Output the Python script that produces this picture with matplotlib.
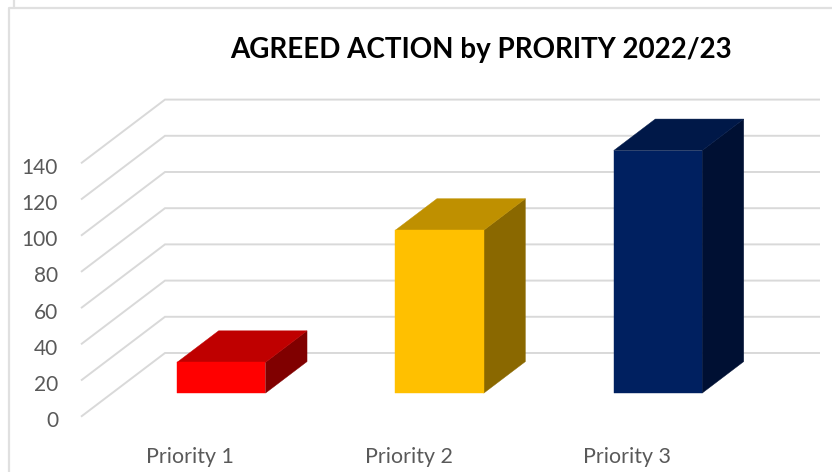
"""Agreed actions by priority, drawn as 3D-style columns on a sheared floor."""
import matplotlib
matplotlib.use("Agg")
import matplotlib.pyplot as plt
from matplotlib.lines import Line2D
from matplotlib.patches import Polygon
from matplotlib.transforms import ScaledTranslation

categories = ["Priority 1", "Priority 2", "Priority 3"]
values = [17, 90, 134]
ticks = [0, 20, 40, 60, 80, 100, 120, 140]
front_colors = ["#ff0000", "#ffc000", "#002060"]
top_colors = ["#bf0000", "#bf9000", "#001848"]
side_colors = ["#800000", "#8a6800", "#001033"]

W, H = 832, 472
GRID = "#d9d9d9"
FRAME = "#e0e0e0"
TEXT = "#595959"
# shift in data units when moving from the front to the back of the floor
DX, DY = 0.3847, 35.2
BAR_W = 0.405
D0, D1 = 0.37, 0.865


def proj(x, v, d):
    return x + d * DX, v + d * DY


plt.rcParams["font.family"] = ["Lato", "DejaVu Sans"]
fig = plt.figure(figsize=(W / 100, H / 100), dpi=100)
ax = fig.add_axes([81 / W, 1 - 416.7 / H, 655 / W, 253.4 / H])
ax.set_xlim(0, 3)
ax.set_ylim(0, 140)
for sp in ax.spines.values():
    sp.set_visible(False)
ax.patch.set_visible(False)

# floor diagonals and back wall lines
for t in ticks:
    xs, ys = zip(proj(0, t, 0), proj(0, t, 1), proj(3, t, 1))
    ax.plot(xs, ys, color=GRID, lw=1.4, clip_on=False, zorder=1,
            solid_joinstyle="miter", solid_capstyle="butt")

for i, v in enumerate(values):
    l, r = i + 0.5 - BAR_W / 2, i + 0.5 + BAR_W / 2
    front = [proj(l, 0, D0), proj(r, 0, D0), proj(r, v, D0), proj(l, v, D0)]
    top = [proj(l, v, D0), proj(r, v, D0), proj(r, v, D1), proj(l, v, D1)]
    side = [proj(r, 0, D0), proj(r, 0, D1), proj(r, v, D1), proj(r, v, D0)]
    for pts, c in [(side, side_colors[i]), (top, top_colors[i]), (front, front_colors[i])]:
        ax.add_patch(Polygon(pts, closed=True, facecolor=c, edgecolor=c, lw=0.3,
                             clip_on=False, zorder=3))

ax.set_yticks(ticks)
ax.set_xticks([0.5, 1.5, 2.5])
ax.set_xticklabels(categories)
ax.tick_params(axis="y", length=0, pad=16.5, labelsize=15, labelcolor=TEXT)
ax.tick_params(axis="x", length=0, pad=22, labelsize=15.4, labelcolor=TEXT)
for lab in ax.get_yticklabels():
    lab.set_transform(lab.get_transform() + ScaledTranslation(0, -1.8 / 72, fig.dpi_scale_trans))

fig.text(481 / W, 1 - 50 / H, "AGREED ACTION by PRORITY 2022/23", ha="center", va="center",
         fontsize=20, fontweight="bold", color="black")

# outer chart frame
fig.add_artist(Line2D([8.5 / W, 8.5 / W, 1], [0, 1 - 7.5 / H, 1 - 7.5 / H], color=FRAME, lw=1.6))
fig.add_artist(Line2D([14 / W, 14 / W], [1 - 7 / H, 1], color=FRAME, lw=1.6))

fig.savefig("out.png", dpi=100)
